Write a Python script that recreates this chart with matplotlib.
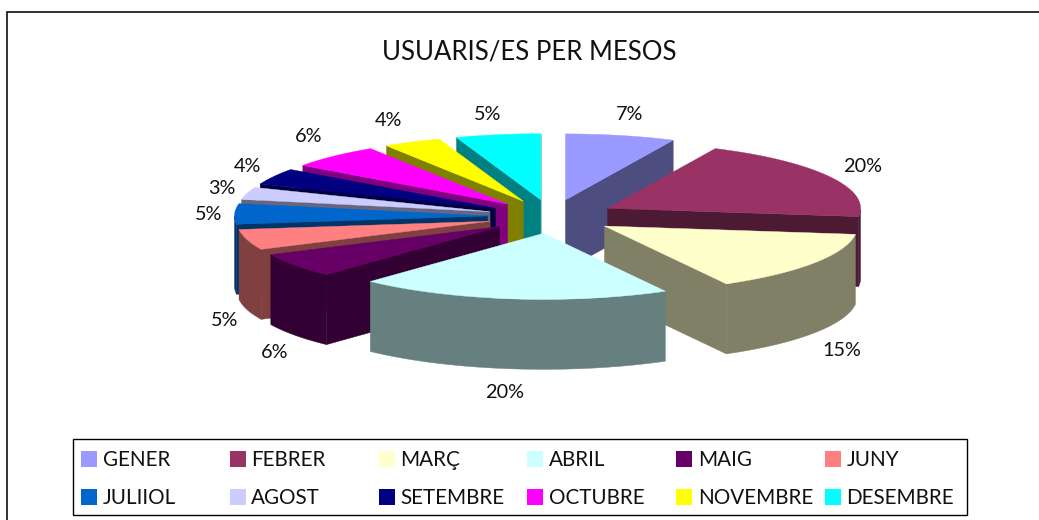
import numpy as np
import matplotlib
matplotlib.use("Agg")
import matplotlib.pyplot as plt
from matplotlib.patches import Polygon, Rectangle

months = ['GENER', 'FEBRER', 'MARÇ', 'ABRIL', 'MAIG', 'JUNY', 'JULIIOL', 'AGOST', 'SETEMBRE', 'OCTUBRE', 'NOVEMBRE', 'DESEMBRE']
shares = [7, 20, 15, 20, 6, 5, 5, 3, 4, 5.9, 3.7, 5.4]
colors = ['#9999FF', '#993366', '#FFFFCC', '#CCFFFF', '#660066', '#FF8080', '#0066CC', '#CCCCFF', '#000080', '#FF00FF', '#FFFF00', '#00FFFF']
sides = ['#4D4D80', '#4D1A33', '#808066', '#668080', '#330033', '#804040', '#003366', '#666680', '#000040', '#800080', '#808000', '#008080']
label_pos = [(630, 114), (863, 166), (842, 350), (505, 392), (275, 353), (225, 320), (209, 214), (222, 188), (247, 166), (309, 136), (388, 121), (488, 114)]

# pie geometry, in pixels
cx, cy = 551.5, 216.5
rx, ry = 253, 66
ex, ey = 64, 17
depth = 70

plt.rcParams['font.family'] = ['Lato', 'DejaVu Sans']

fig = plt.figure(figsize=(10.39, 5.2), dpi=100)
ax = fig.add_axes([0, 0, 1, 1])
ax.set_xlim(0, 1039)
ax.set_ylim(520, 0)
ax.axis('off')

# frame is cut off on the right and at the bottom
ax.plot([7, 7, 1039], [520, 12, 12], color='#222222', lw=1.3, solid_joinstyle='miter')
ax.text(529, 52, 'USUARIS/ES PER MESOS', ha='center', va='center', fontsize=18.5, color='#111111')


def wall(xs, ys, color, z):
    pts = list(zip(xs, ys)) + list(zip(xs[::-1], [y + depth for y in ys[::-1]]))
    ax.add_patch(Polygon(pts, closed=True, fc=color, ec=color, lw=0.3, zorder=z))


edges = np.cumsum([0] + shares) / sum(shares) * 2 * np.pi
mids = (edges[:-1] + edges[1:]) / 2
# back slices first, front slices paint over them
order = np.argsort(-np.cos(mids))

for z, i in enumerate(order):
    a, b = edges[i], edges[i + 1]
    x0 = cx + ex * np.sin(mids[i])
    y0 = cy - ey * np.cos(mids[i])
    t = np.linspace(a, b, 60)
    xr = x0 + rx * np.sin(t)
    yr = y0 - ry * np.cos(t)

    zz = z * 3 + 2
    if np.sin(a) < 0:
        wall([x0, xr[0]], [y0, yr[0]], sides[i], zz)
    if np.sin(b) > 0:
        wall([x0, xr[-1]], [y0, yr[-1]], sides[i], zz)
    front = np.cos(t) <= 0
    if front.any():
        wall(list(xr[front]), list(yr[front]), sides[i], zz)
    ax.add_patch(Polygon([(x0, y0)] + list(zip(xr, yr)), closed=True, fc=colors[i], ec=colors[i], lw=0.3, zorder=zz + 1))

for s, (lx, ly) in zip(shares, label_pos):
    ax.text(lx, ly, f'{s:.0f}%', ha='center', va='center', fontsize=14.3, color='#111111', zorder=100)

# legend box, 2 rows of 6
ax.add_patch(Rectangle((73, 438.5), 893.5, 76.5, fc='white', ec='black', lw=1, zorder=100))
for i, m in enumerate(months):
    col, row = i % 6, i // 6
    sx = 81 + col * 148.8
    sy = 451 + row * 38
    ax.add_patch(Rectangle((sx, sy), 16, 16, fc=colors[i], ec='none', zorder=101))
    ax.text(sx + 21.5, sy + 15, m, ha='left', va='baseline', fontsize=14.9, color='#111111', zorder=101)

fig.savefig('out.png', dpi=100)
